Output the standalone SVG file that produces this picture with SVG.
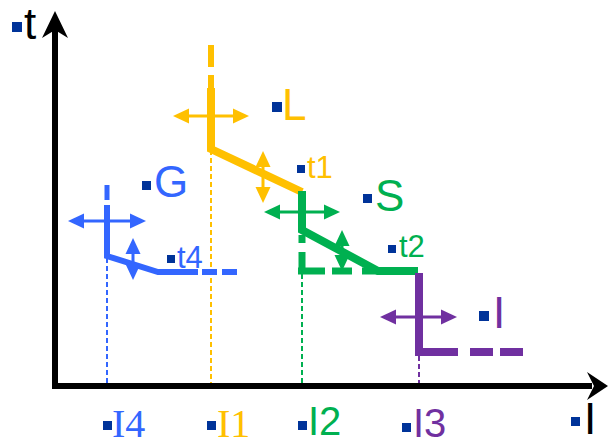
<svg xmlns="http://www.w3.org/2000/svg" width="608" height="439" viewBox="0 0 608 439">
<style>
.sans{font-family:"Liberation Sans",Arial,sans-serif}
.serif{font-family:"Liberation Serif","Times New Roman",serif}
.big{font-size:44px}
.small{font-size:31px}
.axlab{font-size:40px}
.bul{fill:#003399}
.y{stroke:#FFC000;fill:none}
.g{stroke:#00B050;fill:none}
.p{stroke:#7030A0;fill:none}
.b{stroke:#3366FF;fill:none}
.dot{stroke-width:2;stroke-dasharray:5 3}
.arr{stroke-width:3}
</style>
<defs>
<marker id="mY" markerUnits="userSpaceOnUse" markerWidth="16" markerHeight="16" viewBox="0 0 16 16" refX="0" refY="8" orient="auto-start-reverse"><path d="M0,0.5 L16,8 L0,15.5 Z" fill="#FFC000"/></marker>
<marker id="mG" markerUnits="userSpaceOnUse" markerWidth="16" markerHeight="16" viewBox="0 0 16 16" refX="0" refY="8" orient="auto-start-reverse"><path d="M0,0.5 L16,8 L0,15.5 Z" fill="#00B050"/></marker>
<marker id="mP" markerUnits="userSpaceOnUse" markerWidth="16" markerHeight="16" viewBox="0 0 16 16" refX="0" refY="8" orient="auto-start-reverse"><path d="M0,0.5 L16,8 L0,15.5 Z" fill="#7030A0"/></marker>
<marker id="mB" markerUnits="userSpaceOnUse" markerWidth="16" markerHeight="16" viewBox="0 0 16 16" refX="0" refY="8" orient="auto-start-reverse"><path d="M0,0.5 L16,8 L0,15.5 Z" fill="#3366FF"/></marker>
</defs>
<rect width="608" height="439" fill="#fff"/>

<g id="connectors">
  <!-- dotted guides -->
  <line class="b dot" x1="107" y1="258" x2="107" y2="384"/>
  <line class="y dot" x1="211" y1="150" x2="211" y2="384"/>
  <line class="g dot" x1="302" y1="274" x2="302" y2="384"/>
  <line class="p dot" x1="419" y1="356" x2="419" y2="384"/>
  <!-- axes -->
  <path d="M55,389 V30 M52,386 H592" stroke="#000" stroke-width="6" fill="none"/>
  <polygon points="55,11 68,38 55,30 42,38" fill="#000"/>
  <polygon points="608,386 587,372 594,386 587,400" fill="#000"/>
</g>

<g id="phase-L">
  <path class="y" d="M211,45 V67 M211,75 V88" stroke-width="6"/>
  <path class="y" d="M211,88 V149 L302,192" stroke-width="8"/>
  <line class="y arr" x1="189" y1="116" x2="233" y2="116" marker-start="url(#mY)" marker-end="url(#mY)"/>
  <line class="y arr" x1="263" y1="167" x2="263" y2="187" marker-start="url(#mY)" marker-end="url(#mY)"/>
  <rect class="bul" x="272" y="102" width="10" height="10"/>
  <text class="sans big" x="282" y="120" fill="#FFC000">L</text>
  <rect class="bul" x="297" y="165" width="8" height="8"/>
  <text class="sans small" x="307" y="178" fill="#FFC000">t1</text>
</g>

<g id="phase-S">
  <path class="g" d="M302,191 V230 L378,271 H418" stroke-width="8"/>
  <path class="g" d="M302,235 V243 M302,252 V271 M298,271 H325 M332,271 H352 M362,271 H380" stroke-width="7"/>
  <line class="g arr" x1="280" y1="212" x2="324" y2="212" marker-start="url(#mG)" marker-end="url(#mG)"/>
  <line class="g arr" x1="342" y1="246" x2="342" y2="255" marker-start="url(#mG)" marker-end="url(#mG)"/>
  <rect class="bul" x="363" y="194" width="9" height="9"/>
  <text class="sans big" x="375" y="211" fill="#00B050">S</text>
  <rect class="bul" x="388" y="245" width="8" height="8"/>
  <text class="sans small" x="399" y="257" fill="#00B050">t2</text>
</g>

<g id="phase-I">
  <path class="p" d="M419,273 V352 H458" stroke-width="8"/>
  <path class="p" d="M470,352 H493 M500,352 H523" stroke-width="8"/>
  <line class="p arr" x1="396" y1="317" x2="441" y2="317" marker-start="url(#mP)" marker-end="url(#mP)"/>
  <rect class="bul" x="479" y="311" width="10" height="10"/>
  <text class="sans big" x="493" y="328" fill="#7030A0">I</text>
</g>

<g id="phase-G">
  <path class="b" d="M107,185 V200" stroke-width="5"/>
  <path class="b" d="M107,205 V256 L158,272 H198" stroke-width="6"/>
  <path class="b" d="M202,272 H217 M222,272 H237" stroke-width="6"/>
  <line class="b arr" x1="84" y1="221" x2="130" y2="221" marker-start="url(#mB)" marker-end="url(#mB)"/>
  <line class="b arr" x1="133" y1="254" x2="133" y2="264" marker-start="url(#mB)" marker-end="url(#mB)"/>
  <rect class="bul" x="142" y="181" width="9" height="9"/>
  <text class="sans big" x="154" y="197" fill="#3366FF">G</text>
  <rect class="bul" x="167" y="255" width="8" height="8"/>
  <text class="sans small" x="177" y="268" fill="#3366FF">t4</text>
</g>

<g id="axis-labels">
  <rect class="bul" x="12" y="22" width="10" height="10"/>
  <text class="sans big" x="24" y="39" fill="#000">t</text>
  <rect class="bul" x="571" y="417" width="9" height="9"/>
  <text class="sans big" x="584" y="434" fill="#000">I</text>
  <rect class="bul" x="103" y="421" width="9" height="9"/>
  <text class="serif axlab" x="112" y="437" fill="#3366FF">I4</text>
  <rect class="bul" x="207" y="421" width="9" height="9"/>
  <text class="serif axlab" x="217" y="437" fill="#FFC000">I1</text>
  <rect class="bul" x="298" y="421" width="9" height="9"/>
  <text class="sans axlab" x="308" y="435" fill="#00B050">I2</text>
  <rect class="bul" x="402" y="423" width="9" height="9"/>
  <text class="sans axlab" x="413" y="437" fill="#7030A0">I3</text>
</g>
</svg>
